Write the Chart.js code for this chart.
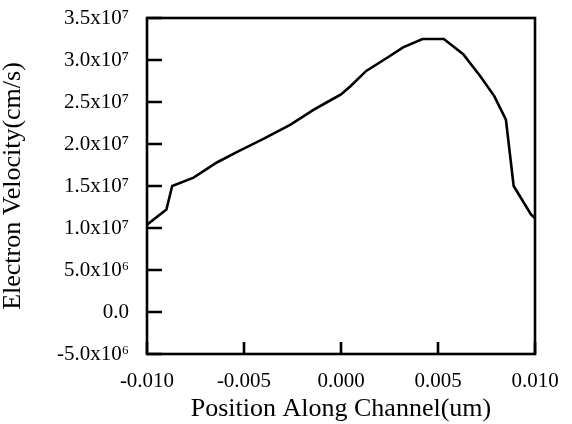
<!DOCTYPE html>
<html>
<head>
<meta charset="utf-8">
<script src="https://cdn.jsdelivr.net/npm/chart.js@4/dist/chart.umd.min.js"></script>
<style>
  html, body { margin: 0; padding: 0; background: #fff; }
  #wrap { width: 572px; height: 424px; }
</style>
</head>
<body>
<div id="wrap"><canvas id="chart" width="572" height="424"></canvas></div>
<script>
/*-------------------------------------------------------------------------*/
// Data
/*-------------------------------------------------------------------------*/
var positions = [-0.0100, -0.0090, -0.0087, -0.0076, -0.0064, -0.0054, -0.0040,
                 -0.0026, -0.0014, -0.0007, 0.0000, 0.0005, 0.0013, 0.0024,
                 0.0032, 0.0042, 0.0053, 0.0063, 0.0072, 0.0079, 0.0085,
                 0.0089, 0.0098, 0.0100];
var velocities = [1.04e7, 1.22e7, 1.50e7, 1.60e7, 1.78e7, 1.90e7, 2.06e7,
                  2.23e7, 2.41e7, 2.50e7, 2.59e7, 2.69e7, 2.87e7, 3.03e7,
                  3.15e7, 3.25e7, 3.25e7, 3.07e7, 2.80e7, 2.57e7, 2.29e7,
                  1.50e7, 1.16e7, 1.12e7];
var xTicks = [-0.010, -0.005, 0.000, 0.005, 0.010];
var yTicks = [-5e6, 0, 5e6, 1e7, 1.5e7, 2e7, 2.5e7, 3e7, 3.5e7];

var SERIF = "'Liberation Serif', 'Times New Roman', serif";
var SUP = { '0': '\u2070', '1': '\u00b9', '2': '\u00b2', '3': '\u00b3', '4': '\u2074',
            '5': '\u2075', '6': '\u2076', '7': '\u2077', '8': '\u2078', '9': '\u2079' };

function sciLabel(v) {
	if (Math.abs(v) < 1) return '0.0';
	var e = Math.floor(Math.log10(Math.abs(v)) + 1e-9);
	var m = v / Math.pow(10, e);
	var sup = String(e).split('').map(function (c) { return SUP[c]; }).join('');
	return m.toFixed(1) + 'x10' + sup;
}

/*-------------------------------------------------------------------------*/
// Frame and inward tick marks
/*-------------------------------------------------------------------------*/
var framePlugin = {
	id: 'frame',
	afterDraw: function (chart) {
		var ctx = chart.ctx, a = chart.chartArea;
		var xs = chart.scales.x, ys = chart.scales.y;
		ctx.save();
		ctx.strokeStyle = '#000';
		ctx.lineWidth = 2.6;
		ctx.lineCap = 'butt';
		ctx.strokeRect(a.left, a.top, a.right - a.left, a.bottom - a.top);
		ctx.beginPath();
		yTicks.forEach(function (t) {
			var py = ys.getPixelForValue(t);
			ctx.moveTo(a.left, py);
			ctx.lineTo(a.left + 15, py);
		});
		xTicks.forEach(function (t) {
			var px = xs.getPixelForValue(t);
			ctx.moveTo(px, a.bottom);
			ctx.lineTo(px, a.bottom - 12);
		});
		ctx.stroke();
		ctx.restore();
	}
};

var ctx = document.getElementById('chart').getContext('2d');
new Chart(ctx, {
	type: 'scatter',
	data: {
		datasets: [{
			data: positions.map(function (p, i) { return { x: p, y: velocities[i] }; }),
			showLine: true,
			borderColor: '#000',
			borderWidth: 2.6,
			pointRadius: 0,
			tension: 0,
			fill: false
		}]
	},
	options: {
		responsive: false,
		animation: false,
		layout: { padding: { left: 0, right: 37, top: 18, bottom: 0 } },
		plugins: { legend: { display: false }, tooltip: { enabled: false } },
		scales: {
			x: {
				type: 'linear',
				min: -0.010,
				max: 0.010,
				afterBuildTicks: function (scale) {
					scale.ticks = xTicks.map(function (v) { return { value: v }; });
				},
				afterFit: function (scale) {
					scale.height = 70;
					scale.paddingLeft = 0;
					scale.paddingRight = 0;
				},
				grid: { display: false, drawTicks: false },
				border: { display: false },
				ticks: {
					padding: 15,
					color: '#000',
					font: { family: SERIF, size: 21 },
					maxRotation: 0,
					callback: function (v) { return (Math.abs(v) < 1e-9 ? 0 : v).toFixed(3); }
				},
				title: {
					display: true,
					text: 'Position Along Channel(um)',
					color: '#000',
					font: { family: SERIF, size: 26, lineHeight: 1.1 },
					padding: { top: 0, bottom: 1 }
				}
			},
			y: {
				type: 'linear',
				min: -5e6,
				max: 3.5e7,
				afterBuildTicks: function (scale) {
					scale.ticks = yTicks.map(function (v) { return { value: v }; });
				},
				afterFit: function (scale) {
					scale.width = 147;
					scale.paddingTop = 0;
					scale.paddingBottom = 0;
				},
				grid: { display: false, drawTicks: false },
				border: { display: false },
				ticks: {
					padding: 18,
					color: '#000',
					font: { family: SERIF, size: 21 },
					callback: function (v) { return sciLabel(v); }
				},
				title: {
					display: true,
					text: 'Electron Velocity(cm/s)',
					color: '#000',
					font: { family: SERIF, size: 26, lineHeight: 1.0 },
					padding: 0
				}
			}
		}
	},
	plugins: [framePlugin]
});
</script>
</body>
</html>
